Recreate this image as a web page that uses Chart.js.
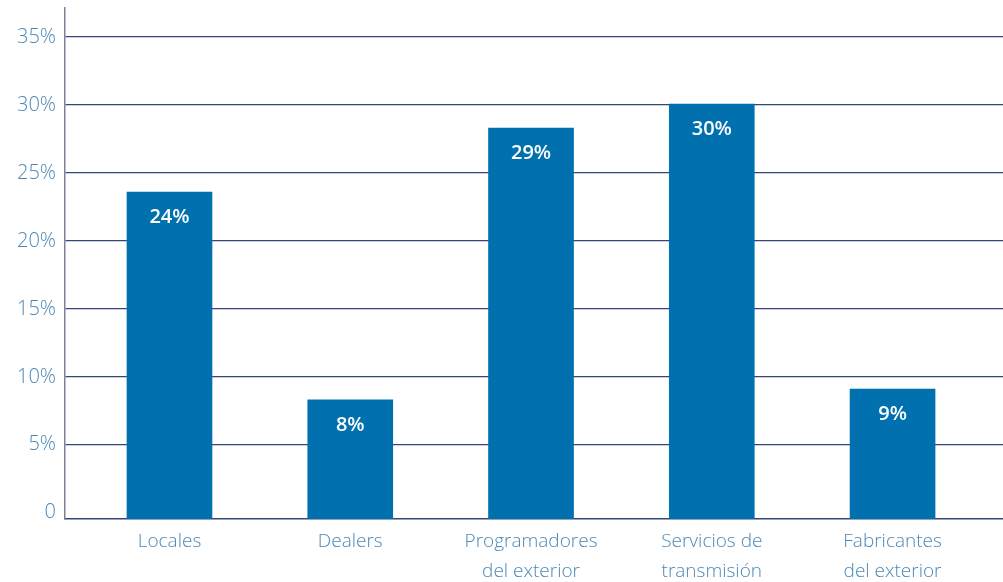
<!DOCTYPE html>
<html>
<head>
<meta charset="utf-8">
<script src="https://cdn.jsdelivr.net/npm/chart.js@4.4.0/dist/chart.umd.min.js"></script>
<style>
  html, body { margin: 0; padding: 0; background: #fff; }
  #wrap { width: 1003px; height: 582px; position: relative; }
</style>
</head>
<body>
<div id="wrap"><canvas id="chart"></canvas></div>
<script>
const categories = [
  ['Locales'],
  ['Dealers'],
  ['Programadores', 'del exterior'],
  ['Servicios de', 'transmisión'],
  ['Fabricantes', 'del exterior'],
];
const shares = [23.6, 8.3, 28.3, 30.07, 9.1];
const shareLabels = ['24%', '8%', '29%', '30%', '9%'];
const yTicks = [0, 5, 10, 15, 20, 25, 30, 35];
const Y_MIN = -0.46;
const Y_MAX = 37.14;

const BAR = '#0071ae';
const GRID = '#37447a';
const TICK = '#4b88b6';
const FONT = "'Open Sans', 'Noto Sans', sans-serif";

// white value labels near the top of each bar
const barLabels = {
  id: 'barLabels',
  afterDatasetsDraw(chart) {
    const ctx = chart.ctx;
    const meta = chart.getDatasetMeta(0);
    ctx.save();
    ctx.fillStyle = '#ffffff';
    ctx.font = `600 20px ${FONT}`;
    ctx.textAlign = 'center';
    ctx.textBaseline = 'middle';
    meta.data.forEach((bar, i) => {
      ctx.fillText(shareLabels[i], bar.x, bar.y + 25);
    });
    ctx.restore();
  },
};

new Chart(document.getElementById('chart'), {
  type: 'bar',
  data: {
    datasets: [{
      data: shares.map((v, i) => ({ x: i, y: v })),
      backgroundColor: BAR,
      borderWidth: 0,
      barThickness: 85,
      base: Y_MIN,
    }],
  },
  plugins: [barLabels],
  options: {
    responsive: true,
    maintainAspectRatio: false,
    animation: false,
    layout: { padding: { top: 8, right: 0, left: 0, bottom: 0 } },
    plugins: { legend: { display: false }, tooltip: { enabled: false } },
    scales: {
      x: {
        type: 'linear',
        offset: false,
        min: -0.578,
        max: 4.611,
        afterBuildTicks(scale) { scale.ticks = categories.map((_, i) => ({ value: i })); },
        afterFit(scale) {
          scale.height = 63;
          scale.paddingLeft = 0;
          scale.paddingRight = 0;
        },
        grid: { display: false, drawTicks: false },
        border: { display: true, color: GRID, width: 1.5 },
        ticks: {
          color: TICK,
          padding: 8,
          autoSkip: false,
          maxRotation: 0,
          font: { family: FONT, size: 19, weight: 300, lineHeight: 1.55 },
          callback: v => categories[v],
        },
      },
      y: {
        min: Y_MIN,
        max: Y_MAX,
        afterBuildTicks(scale) { scale.ticks = yTicks.map(v => ({ value: v })); },
        afterFit(scale) {
          scale.width = 65;
          scale.paddingTop = 0;
          scale.paddingBottom = 0;
        },
        grid: {
          color: c => c.tick && c.tick.value === 0 ? 'rgba(0,0,0,0)' : GRID,
          lineWidth: 1.2,
          drawTicks: false,
        },
        border: { display: true, color: '#7c8098', width: 1.5 },
        ticks: {
          color: TICK,
          padding: 9,
          font: { family: FONT, size: 20, weight: 300 },
          callback: v => v === 0 ? '0' : v + '%',
        },
      },
    },
  },
});
</script>
</body>
</html>
